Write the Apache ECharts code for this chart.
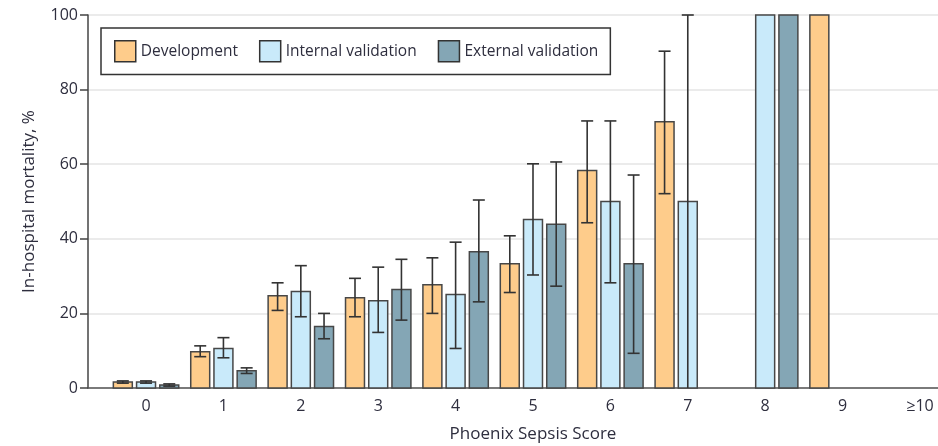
<!DOCTYPE html>
<html>
<head>
<meta charset="utf-8">
<script src="https://cdn.jsdelivr.net/npm/echarts@6/dist/echarts.min.js"></script>
<style>
  html, body { margin: 0; padding: 0; background: #fff; }
  #chart { width: 938px; height: 446px; }
</style>
</head>
<body>
<div id="chart"></div>
<script>
// Phoenix Sepsis Score categories
const categories = ['0', '1', '2', '3', '4', '5', '6', '7', '8', '9', '≥10'];
const yTicks = [0, 20, 40, 60, 80, 100];

// In-hospital mortality (%) with 95% CI, per cohort
const devMortality = [1.6, 9.7, 24.7, 24.2, 27.7, 33.3, 58.3, 71.4, null, 100, null];
const devLower     = [1.3, 8.4, 20.8, 19.1, 20.0, 25.6, 44.3, 52.1, null, null, null];
const devUpper     = [1.9, 11.3, 28.2, 29.4, 34.9, 40.8, 71.6, 90.3, null, null, null];

const intMortality = [1.6, 10.6, 25.9, 23.4, 25.1, 45.2, 50.0, 50.0, 100, null, null];
const intLower     = [1.3, 8.1, 19.1, 14.9, 10.6, 30.3, 28.2, 0, null, null, null];
const intUpper     = [1.9, 13.5, 32.8, 32.4, 39.1, 60.1, 71.6, 100, null, null, null];

const extMortality = [0.8, 4.6, 16.5, 26.4, 36.5, 43.9, 33.3, null, 100, null, null];
const extLower     = [0.5, 3.9, 13.2, 18.2, 23.1, 27.3, 9.3, null, null, null, null];
const extUpper     = [1.1, 5.4, 20.0, 34.5, 50.4, 60.6, 57.1, null, null, null, null];

const FONT = '"Open Sans", sans-serif';
const TEXT = '#2e2e3e';
const EDGE = '#474747';
const BAR_FRAC = 0.245;   // bar width as share of one category step
const STEP_FRAC = 0.30;   // distance between neighbouring bars in a group

function buildData(vals, lo, hi) {
  const out = [];
  vals.forEach((v, i) => {
    if (v !== null) out.push([i, v, lo[i], hi[i]]);
  });
  return out;
}

function barRenderer(slot, fill) {
  return function (params, api) {
    const x = api.value(0);
    const v = api.value(1);
    const lo = api.value(2);
    const hi = api.value(3);
    const band = api.size([1, 0])[0];
    const base = api.coord([x, 0]);
    const top = api.coord([x, v]);
    const cx = base[0] + band * STEP_FRAC * slot;
    const w = band * BAR_FRAC;
    const children = [{
      type: 'rect',
      shape: { x: cx - w / 2, y: top[1], width: w, height: base[1] - top[1] },
      style: { fill: fill, stroke: EDGE, lineWidth: 1.5 }
    }];
    if (!isNaN(lo) && !isNaN(hi) && lo !== null && hi !== null) {
      const pLo = api.coord([x, lo])[1];
      const pHi = api.coord([x, hi])[1];
      const cap = 6;
      const ls = { stroke: '#333', lineWidth: 1.6 };
      children.push({ type: 'line', shape: { x1: cx, y1: pLo, x2: cx, y2: pHi }, style: ls });
      children.push({ type: 'line', shape: { x1: cx - cap, y1: pHi, x2: cx + cap, y2: pHi }, style: ls });
      if (lo > 0) {
        children.push({ type: 'line', shape: { x1: cx - cap, y1: pLo, x2: cx + cap, y2: pLo }, style: ls });
      }
    }
    return { type: 'group', children: children };
  };
}

const colors = ['#FECC8B', '#C9EAFA', '#84A6B5'];
const names = ['Development', 'Internal validation', 'External validation'];

const chart = echarts.init(document.getElementById('chart'), null, { renderer: 'canvas' });
chart.setOption({
  animation: false,
  backgroundColor: '#fff',
  grid: { left: 88, top: 15, width: 890, height: 373, containLabel: false, outerBoundsMode: 'none' },
  legend: {
    left: 101, top: 28,
    orient: 'horizontal',
    padding: [12, 12, 12, 13],
    borderColor: '#333', borderWidth: 1.5,
    itemWidth: 21, itemHeight: 21, itemGap: 21,
    textStyle: { fontFamily: FONT, fontSize: 15.5, color: TEXT },
    data: names.map((n, i) => ({
      name: n, icon: 'rect',
      itemStyle: { color: colors[i], borderColor: '#333', borderWidth: 1.5 }
    }))
  },
  xAxis: {
    type: 'value',
    min: -0.75, max: 10.75,
    name: 'Phoenix Sepsis Score',
    nameLocation: 'middle',
    nameGap: 38,
    nameTextStyle: { fontFamily: FONT, fontSize: 17, color: TEXT },
    axisLine: { show: true, onZero: false, lineStyle: { color: '#555', width: 1.5 } },
    axisTick: { show: false },
    splitLine: { show: false },
    axisLabel: {
      customValues: categories.map((c, i) => i),
      formatter: v => categories[Math.round(v)],
      fontFamily: FONT, fontSize: 16, color: TEXT, margin: 10
    }
  },
  yAxis: {
    type: 'value',
    min: 0, max: 100, interval: 20,
    name: 'In-hospital mortality, %',
    nameLocation: 'middle',
    nameGap: 50,
    nameTextStyle: { fontFamily: FONT, fontSize: 17, color: TEXT },
    axisLine: { show: true, onZero: false, lineStyle: { color: '#444', width: 1.5 } },
    axisTick: { show: true, length: 8, lineStyle: { color: '#444', width: 1.5 } },
    splitLine: { show: true, lineStyle: { color: '#e4e4e4', width: 1.5 } },
    axisLabel: {
      customValues: yTicks,
      fontFamily: FONT, fontSize: 16, color: TEXT, margin: 10
    }
  },
  series: [
    { name: names[0], type: 'custom', renderItem: barRenderer(-1, colors[0]),
      itemStyle: { color: colors[0] }, data: buildData(devMortality, devLower, devUpper), clip: false },
    { name: names[1], type: 'custom', renderItem: barRenderer(0, colors[1]),
      itemStyle: { color: colors[1] }, data: buildData(intMortality, intLower, intUpper), clip: false },
    { name: names[2], type: 'custom', renderItem: barRenderer(1, colors[2]),
      itemStyle: { color: colors[2] }, data: buildData(extMortality, extLower, extUpper), clip: false }
  ]
});
</script>
</body>
</html>
